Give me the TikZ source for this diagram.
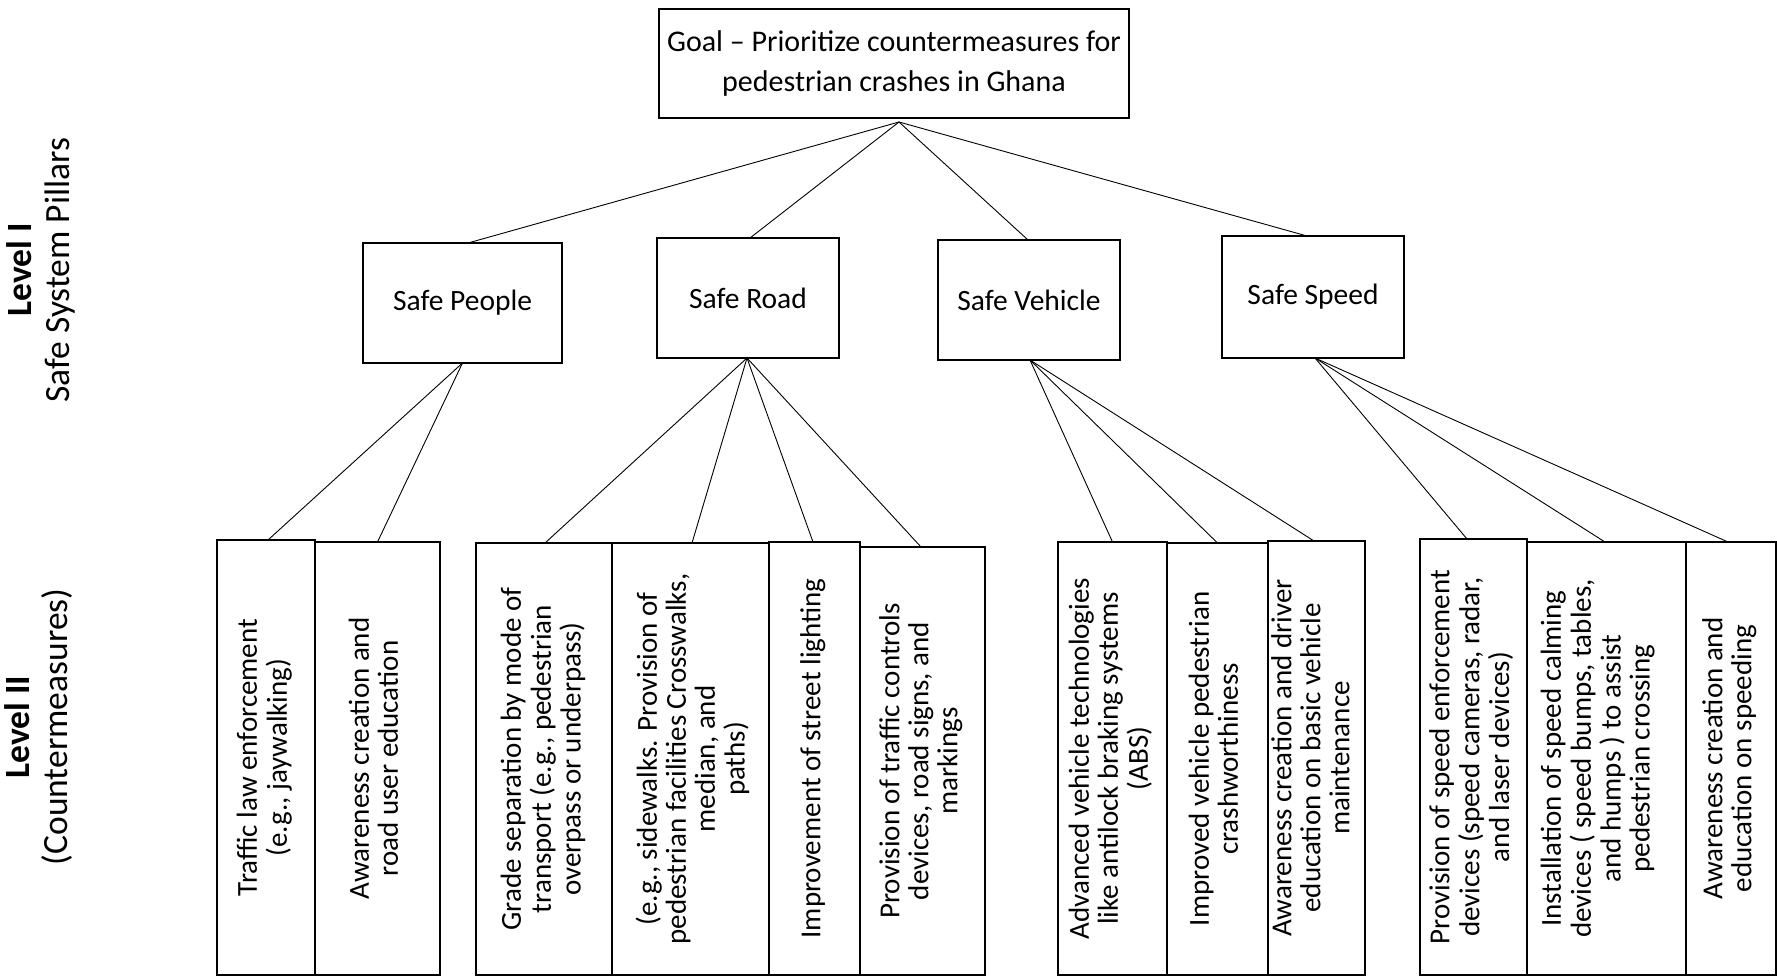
\documentclass[tikz,border=0pt]{standalone}
\usepackage{fontspec}
\setmainfont{Carlito}
\newcommand\goalfnt{\fontsize{30}{40}\selectfont}
\newcommand\pilfnt{\fontsize{29.5}{34}\selectfont}
\newcommand\cmfnt{\fontsize{29}{29}\selectfont}
\newcommand\lvlfnt{\fontsize{35.5}{38}\selectfont}
\newcommand\vtext[2][0pt]{\kern#1\rotatebox{90}{\cmfnt\begin{tabular}{@{}c@{}}#2\end{tabular}}\kern-#1}
\begin{document}
\begin{tikzpicture}[x=1pt,y=-1pt,
  box/.style={draw,line width=1.6pt,inner sep=0pt,outer sep=0pt,fill=white},
  pillar/.style={box,font=\pilfnt},
  cmbox/.style={box},
  link/.style={line width=0.9pt},
  lvl/.style={rotate=90,align=center,font=\lvlfnt,inner sep=0pt}]
\useasboundingbox[fill=white] (0,0) rectangle (1777,977);

% level labels
\node[lvl] (l1) at (41,270) {\textbf{Level I}\\Safe System Pillars};
\node[lvl] (l2) at (39,727) {\textbf{Level II}\\(Countermeasures)};

% goal
\node[box,minimum width=470pt,minimum height=109pt,align=center,font=\goalfnt] (goal) at (894,63.5)
  {Goal -- Prioritize countermeasures for\\pedestrian crashes in Ghana};
\coordinate (gp) at ([xshift=5pt,yshift=-4pt]goal.south);

% pillars
\node[pillar,minimum width=199pt,minimum height=120pt] (people) at (462.5,303) {Safe People};
\node[pillar,minimum width=182pt,minimum height=120pt] (road) at (748,298) {Safe Road};
\node[pillar,minimum width=182pt,minimum height=120pt] (vehicle) at (1029,300) {Safe Vehicle};
\node[pillar,minimum width=182pt,minimum height=122pt] (speed) at (1313,297) {Safe Speed};

% countermeasures
\node[cmbox,minimum width=98pt,minimum height=435pt] (c1) at (266,757.5)
  {\vtext{Traffic law enforcement\\(e.g., jaywalking)}};
\node[cmbox,minimum width=125pt,minimum height=433pt] (c2) at (377.5,758.5)
  {\vtext{Awareness creation and\\road user education}};
\node[cmbox,minimum width=136pt,minimum height=432pt] (c3) at (544,759)
  {\vtext[1pt]{Grade separation by mode of\\transport (e.g., pedestrian\\overpass or underpass)}};
\node[cmbox,minimum width=157pt,minimum height=432pt] (c4) at (690.5,759)
  {\vtext[4pt]{(e.g., sidewalks. Provision of\\pedestrian facilities Crosswalks,\\median, and\\paths)}};
\node[cmbox,minimum width=91pt,minimum height=433pt] (c5) at (814.5,758.5)
  {\vtext{Improvement of street lighting}};
\node[cmbox,minimum width=125pt,minimum height=428pt] (c6) at (922.5,761)
  {\vtext{Provision of traffic controls\\devices, road signs, and\\markings}};
\node[cmbox,minimum width=109pt,minimum height=433pt] (c7) at (1112.5,758.5)
  {\vtext{Advanced vehicle technologies\\like antilock braking systems\\(ABS)}};
\node[cmbox,minimum width=101pt,minimum height=432pt] (c8) at (1217.5,759)
  {\vtext{Improved vehicle pedestrian\\crashworthiness}};
\node[cmbox,minimum width=97pt,minimum height=434pt] (c9) at (1316.5,758)
  {\vtext[-2pt]{Awareness creation and driver\\education on basic vehicle\\maintenance}};
\node[cmbox,minimum width=107pt,minimum height=436pt] (c10) at (1473.5,757)
  {\vtext{Provision of speed enforcement\\devices (speed cameras, radar,\\and laser devices)}};
\node[cmbox,minimum width=159pt,minimum height=433pt] (c11) at (1606.5,758.5)
  {\vtext[-7pt]{Installation of speed calming\\devices ( speed bumps, tables,\\and humps ) to assist\\pedestrian crossing}};
\node[cmbox,minimum width=90pt,minimum height=433pt] (c12) at (1731,758.5)
  {\vtext{Awareness creation and\\education on speeding}};

% goal -> pillars
\draw[link] (gp) -- ([xshift=5.5pt]people.north);
\draw[link] (gp) -- ([xshift=2pt]road.north);
\draw[link] (gp) -- ([xshift=-1pt]vehicle.north);
\draw[link] (gp) -- ([xshift=-6pt]speed.north);

% pillars -> countermeasures
\draw[link] (people.south) -- ([xshift=2pt]c1.north);
\draw[link] (people.south) -- (c2.north);
\draw[link] ([xshift=-1pt]road.south) -- ([xshift=1pt]c3.north);
\draw[link] ([xshift=-1pt]road.south) -- ([xshift=1.5pt]c4.north);
\draw[link] ([xshift=-1pt]road.south) -- ([xshift=-1.5pt]c5.north);
\draw[link] ([xshift=-1pt]road.south) -- ([xshift=-1.5pt]c6.north);
\draw[link] ([xshift=1pt]vehicle.south) -- (c7.north);
\draw[link] ([xshift=1pt]vehicle.south) -- (c8.north);
\draw[link] ([xshift=1pt]vehicle.south) -- ([xshift=-2.5pt]c9.north);
\draw[link] ([xshift=2pt]speed.south) -- ([xshift=-6.5pt]c10.north);
\draw[link] ([xshift=2pt]speed.south) -- ([xshift=-1.5pt]c11.north);
\draw[link] ([xshift=2pt]speed.south) -- ([xshift=-3pt]c12.north);
\end{tikzpicture}
\end{document}
